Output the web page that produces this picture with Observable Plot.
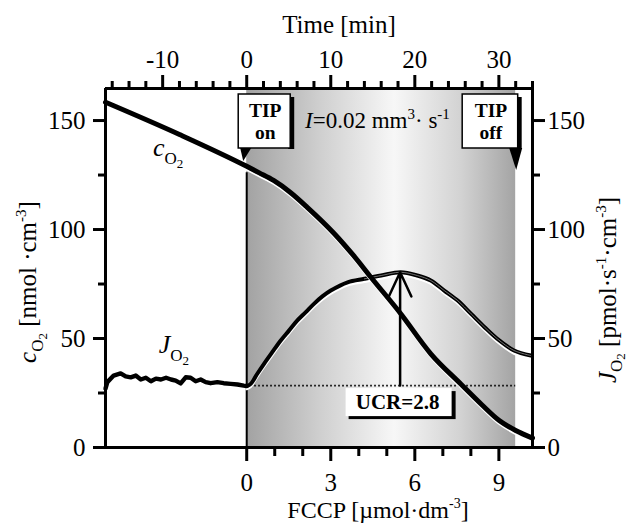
<!DOCTYPE html>
<html><head><meta charset="utf-8">
<script src="https://cdn.jsdelivr.net/npm/d3@7"></script>
<script src="https://cdn.jsdelivr.net/npm/@observablehq/plot@0.6"></script>
<style>html,body{margin:0;padding:0;background:#fff}</style>
</head><body><div id="chart"></div>
<script>
// ---- data ----
const fccpRate = 0.3;              // µmol·dm⁻³ FCCP per min of titration
const timeDomain = [-16.8, 34];
const yDomain = [0, 164.7];

const timeMajor = [-10, 0, 10, 20, 30];
const timeMinor = [-16, -14, -12, -8, -6, -4, -2, 2, 4, 6, 8, 12, 14, 16, 18, 22, 24, 26, 28, 32, 34];
const fccpMajor = [0, 3, 6, 9];
const fccpMinor = [1, 2, 4, 5, 7, 8];
const yMajor = [0, 50, 100, 150];
const yMinor = [25, 75, 125];

// oxygen concentration c_O2 [nmol·cm⁻³]
const timeC = [-16.8, -8, 0, 1.5, 3.2, 5.2, 7.2, 10.4, 12.7, 14.8, 18.3, 21.9, 25.5, 28, 30, 32, 34];
const cO2   = [158.4, 143.6, 129, 126, 122.5, 117, 110.2, 98.2, 88.1, 78, 61.5, 43, 29, 19.5, 12.5, 7.8, 4.3];

// oxygen flux J_O2 [pmol·s⁻¹·cm⁻³]
const timeJ = [-16.8,-16.58,-15.83,-15.0,-14.4,-13.8,-13.2,-12.6,-12.0,-11.4,-10.8,-10.2,-9.6,-9.0,-8.45,-7.86,-7.26,-6.67,-6.07,-5.48,-4.88,-4.29,-3.49,-2.74,-1.9,-1.1,-0.36,0.0,0.48,1.2,2.06,3.0,4.05,5.0,6.03,7.0,8.0,9.0,10.0,12.0,14.0,16.0,18.3,20.3,21.9,23.5,25.1,26.7,28.3,29.8,31.8,33.8];
const jO2   = [27,30,33,34,32.6,32.2,33,31.2,32,30.4,31.6,31.2,32,31.2,30.7,29.4,32.2,32,30.4,31.2,30,29.5,30,29.5,29.2,28.9,28.4,28.2,29.2,33.5,38.4,43.5,49.1,53.5,58.3,62,65.9,69.3,72.0,75.8,77.4,78.9,80.4,78.9,76.6,72.0,67.4,61.3,55.2,49.9,44.5,42.2];

// titration (TIP) interval, routine baseline and uncoupling peak
const tipEvents = ["on", "off"];
const tipTimes = [0, 32];
const ucrTime = 18.25;
const jBaseline = 28.4;
const jPeak = 80.4;

// ---- build tables ----
const cData = timeC.map((t, i) => ({t, v: cO2[i]}));
const cTip = cData.filter(d => d.t >= 0);
const jData = timeJ.map((t, i) => ({t, v: jO2[i]}));
const jPre = jData.filter(d => d.t <= 0);
const jTip = jData.filter(d => d.t >= 0);
const shade = [{t0: tipTimes[0], t1: tipTimes[1], v0: yDomain[0], v1: yDomain[1]}];

const FONT = "'Liberation Serif', 'Times New Roman', serif";

function rich(g, x, y, parts, opts = {}) {
  const t = g.append("text").attr("x", x).attr("y", y)
    .style("font-family", FONT)
    .attr("font-size", opts.size || 25).attr("text-anchor", opts.anchor || "start")
    .attr("fill", "black");
  if (opts.bold) t.attr("font-weight", "bold");
  if (opts.rotate) t.attr("transform", `rotate(${opts.rotate},${x},${y})`);
  let cur = 0;
  for (const p of parts) {
    const off = p.shift || 0;
    const s = t.append("tspan").text(p.text);
    if (off - cur) s.attr("dy", off - cur);
    cur = off;
    if (p.size) s.attr("font-size", p.size);
    if (p.italic) s.attr("font-style", "italic");
  }
  return t;
}

function defsMark() {
  const g = d3.create("svg:g");
  const grad = g.append("defs").append("linearGradient").attr("id", "tipGrad")
    .attr("x1", 0).attr("x2", 1).attr("y1", 0).attr("y2", 0);
  [[0, "#a2a2a2"], [0.28, "#d0d0d0"], [0.55, "#f7f7f7"], [0.8, "#d2d2d2"], [1, "#a4a4a4"]]
    .forEach(([o, c]) => grad.append("stop").attr("offset", o).attr("stop-color", c));
  return g.node();
}

function annotations(index, scales, values, dim) {
  const {x, y} = scales;
  const g = d3.create("svg:g").style("font-family", FONT);
  const top = dim.marginTop;
  // TIP boxes
  tipEvents.forEach((lab, i) => {
    const px = x(tipTimes[i]);
    const on = i === 0;
    const left = on ? px - 8 : px - 53;
    const right = on ? px + 44 : px + 2.5;
    const bTop = top + 6, bBot = top + 60;
    g.append("rect").attr("x", right - 2).attr("y", bTop + 3).attr("width", 6).attr("height", bBot - bTop - 2).attr("fill", "black");
    g.append("rect").attr("x", left).attr("y", bTop).attr("width", right - left).attr("height", bBot - bTop)
      .attr("fill", "white").attr("stroke", "black").attr("stroke-width", 1.5);
    const tri = on ? [[px - 6, bBot], [px + 5, bBot], [px - 3, bBot + 13]]
                   : [[px - 6, bBot], [px + 7, bBot], [px + 1, bBot + 22]];
    g.append("path").attr("d", "M" + tri.join("L") + "Z").attr("fill", "black");
    const cx = (left + right) / 2 + 1;
    const t = g.append("text").attr("x", cx).attr("y", top + 29).attr("text-anchor", "middle")
      .attr("font-size", 19.5).attr("font-weight", "bold").style("font-family", FONT);
    t.append("tspan").attr("x", cx).text("TIP");
    t.append("tspan").attr("x", cx).attr("dy", 22).text(lab);
  });
  // flow text
  rich(g, x(7.0), y(146.3), [
    {text: "I", italic: true}, {text: "=0.02 mm"}, {text: "3", size: 15, shift: -9},
    {text: "· s", shift: 0}, {text: "-1", size: 15, shift: -9}
  ], {size: 23});
  // UCR box
  const ux = x(ucrTime), uy = y(jBaseline);
  g.append("rect").attr("x", ux - 51).attr("y", uy + 6).attr("width", 107).attr("height", 28).attr("fill", "black");
  g.append("rect").attr("x", ux - 54).attr("y", uy + 3).attr("width", 106).attr("height", 28).attr("fill", "white");
  g.append("text").attr("x", ux - 2).attr("y", uy + 24).attr("text-anchor", "middle").style("font-family", FONT)
    .attr("font-size", 21).attr("font-weight", "bold").text("UCR=" + (jPeak / jBaseline).toFixed(1));
  // series labels
  rich(g, x(-11.1), y(133.5), [{text: "c", italic: true}, {text: "O", size: 17, shift: 8}, {text: "2", size: 13, shift: 12}], {size: 26});
  rich(g, x(-10.4), y(43), [{text: "J", italic: true}, {text: "O", size: 17, shift: 8}, {text: "2", size: 13, shift: 12}], {size: 26});
  // axis titles
  rich(g, dim.width / 2 + 23, 33, [{text: "Time [min]"}], {anchor: "middle", size: 25});
  rich(g, 378, 518, [{text: "FCCP [µmol·dm"}, {text: "-3", size: 14, shift: -10}, {text: "]", shift: 0}], {anchor: "middle", size: 24});
  rich(g, 36, 282, [{text: "c", italic: true}, {text: "O", size: 17, shift: 7}, {text: "2", size: 13, shift: 11},
    {text: " [nmol ·cm", shift: 0}, {text: "-3", size: 15, shift: -10}, {text: "]", shift: 0}], {anchor: "middle", size: 25, rotate: -90});
  rich(g, 616, 290, [{text: "J", italic: true}, {text: "O", size: 17, shift: 6}, {text: "2", size: 13, shift: 9},
    {text: " [pmol·s", shift: 0}, {text: "-1", size: 15, shift: -10}, {text: "·cm", shift: 0},
    {text: "-3", size: 15, shift: -10}, {text: "]", shift: 0}], {anchor: "middle", size: 25, rotate: -90});
  return g.node();
}

const axisCommon = {label: null, strokeWidth: 3, fontSize: 25, fill: "black"};
const chart = Plot.plot({
  width: 632, height: 524,
  marginLeft: 105, marginRight: 100, marginTop: 88, marginBottom: 77,
  x: {domain: timeDomain},
  y: {domain: yDomain},
  style: {fontFamily: FONT, fontSize: "25px", color: "black", background: "white", overflow: "visible"},
  marks: [
    defsMark,
    Plot.rect(shade, {x1: "t0", x2: "t1", y1: "v0", y2: "v1", fill: "url(#tipGrad)"}),
    Plot.ruleX([tipTimes[0]], {y1: 0, y2: 126, strokeWidth: 2}),
    Plot.ruleY([jBaseline], {x1: tipTimes[0], x2: tipTimes[1], strokeDasharray: "1.6,2.4", strokeWidth: 1.6}),
    // J_O2
    Plot.line(jTip, {x: "t", y: "v", stroke: "white", strokeWidth: 2.5, dy: 3, curve: "catmull-rom"}),
    Plot.line(jPre, {x: "t", y: "v", stroke: "black", strokeWidth: 4.4, curve: "linear"}),
    Plot.line(jTip, {x: "t", y: "v", stroke: "black", strokeWidth: 4, curve: "catmull-rom"}),
    Plot.line(jTip.filter(d => d.t >= 14), {x: "t", y: "v", stroke: "#8c8c8c", strokeWidth: 0.8, curve: "catmull-rom"}),
    // c_O2
    Plot.line(cTip, {x: "t", y: "v", stroke: "white", strokeWidth: 2, dy: 3.5, curve: "monotone-x"}),
    Plot.line(cData, {x: "t", y: "v", stroke: "black", strokeWidth: 5, curve: "monotone-x"}),
    // UCR arrow
    Plot.arrow([{t: ucrTime, a: jBaseline, b: jPeak}], {x1: "t", x2: "t", y1: "a", y2: "b", strokeWidth: 2.5, headLength: 16, headAngle: 50, stroke: "black"}),
    // frame
    Plot.ruleX([timeDomain[0], timeDomain[1]], {strokeWidth: 3}),
    Plot.ruleY([yDomain[1]], {x1: timeDomain[0], x2: timeDomain[1], strokeWidth: 3}),
    Plot.ruleY([0], {x1: timeDomain[0], x2: 35.5, strokeWidth: 3}),
    // axes
    Plot.axisX({...axisCommon, anchor: "top", ticks: timeMajor, tickSize: 14, tickPadding: 7, tickFormat: d => String(d)}),
    Plot.axisX({...axisCommon, anchor: "top", ticks: timeMinor, tickSize: 8, tickFormat: () => ""}),
    Plot.axisX({...axisCommon, anchor: "bottom", ticks: fccpMajor.map(f => f / fccpRate), tickSize: 14, tickPadding: 12, tickFormat: d => String(Math.round(d * fccpRate))}),
    Plot.axisX({...axisCommon, anchor: "bottom", ticks: fccpMinor.map(f => f / fccpRate), tickSize: 9, tickFormat: () => ""}),
    Plot.axisY({...axisCommon, anchor: "left", ticks: yMajor, tickSize: 12, tickPadding: 8, tickFormat: d => String(d)}),
    Plot.axisY({...axisCommon, anchor: "left", ticks: yMinor, tickSize: 7, tickFormat: () => ""}),
    Plot.axisY({...axisCommon, anchor: "right", ticks: yMajor, tickSize: 12, tickPadding: 3, tickFormat: d => String(d)}),
    Plot.axisY({...axisCommon, anchor: "right", ticks: yMinor, tickSize: 7, tickFormat: () => ""}),
    annotations
  ]
});
document.getElementById("chart").appendChild(chart);
</script>
</body></html>
